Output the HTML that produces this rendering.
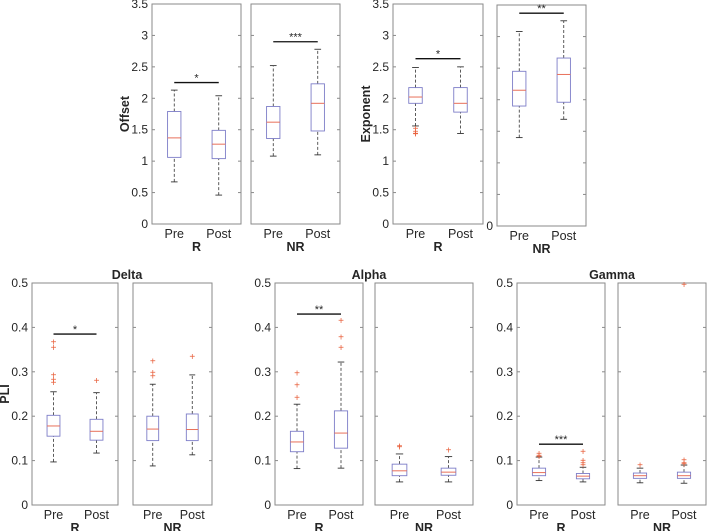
<!DOCTYPE html>
<html><head><meta charset="utf-8"><style>
body{margin:0;background:#fff;}
svg{display:block;font-family:"Liberation Sans",Arial,sans-serif;}
</style></head><body>
<svg id="chart" width="708" height="531" viewBox="0 0 708 531" xmlns="http://www.w3.org/2000/svg"></svg>
<script>
// [whiskerLow, q1, median, q3, whiskerHigh]
const offsetRPre=[0.67,1.06,1.37,1.79,2.13], offsetRPost=[0.46,1.04,1.27,1.49,2.04];
const offsetNRPre=[1.08,1.36,1.62,1.87,2.52], offsetNRPost=[1.10,1.48,1.92,2.23,2.78];
const expRPre=[1.56,1.92,2.02,2.17,2.49], expRPost=[1.44,1.78,1.92,2.17,2.50];
const expNRPre=[1.40,1.90,2.15,2.45,3.08], expNRPost=[1.69,1.96,2.40,2.66,3.25];
const deltaRPre=[0.097,0.155,0.178,0.202,0.255], deltaRPost=[0.117,0.146,0.166,0.193,0.253];
const deltaNRPre=[0.088,0.145,0.171,0.200,0.272], deltaNRPost=[0.113,0.145,0.170,0.205,0.293];
const alphaRPre=[0.082,0.120,0.142,0.166,0.227], alphaRPost=[0.083,0.128,0.162,0.212,0.322];
const alphaNRPre=[0.052,0.066,0.077,0.092,0.115], alphaNRPost=[0.052,0.067,0.074,0.083,0.109];
const gammaRPre=[0.055,0.066,0.073,0.083,0.108], gammaRPost=[0.052,0.059,0.065,0.071,0.085];
const gammaNRPre=[0.050,0.060,0.066,0.072,0.083], gammaNRPost=[0.049,0.060,0.066,0.074,0.090];
// outliers
const expRPreOut=[1.52,1.47,1.44,1.43];
const deltaRPreOut=[0.367,0.355,0.293,0.283,0.276], deltaRPostOut=[0.280];
const deltaNRPreOut=[0.324,0.298,0.290], deltaNRPostOut=[0.335];
const alphaRPreOut=[0.297,0.270,0.242], alphaRPostOut=[0.416,0.378,0.355];
const alphaNRPreOut=[0.133,0.131], alphaNRPostOut=[0.124];
const gammaRPreOut=[0.116,0.112,0.109], gammaRPostOut=[0.121,0.100,0.095,0.090];
const gammaNRPreOut=[0.090], gammaNRPostOut=[0.497,0.101,0.095,0.092];
const categories=["Pre","Post"];
const topTicks=[0,0.5,1,1.5,2,2.5,3,3.5];
const topTickLabels=["0","0.5","1","1.5","2","2.5","3","3.5"];
const botTicks=[0,0.1,0.2,0.3,0.4,0.5];
const botTickLabels=["0","0.1","0.2","0.3","0.4","0.5"];

const NS="http://www.w3.org/2000/svg";
const svg=document.getElementById('chart');
function el(tag,attrs,parent){const e=document.createElementNS(NS,tag);for(const k in attrs)e.setAttribute(k,attrs[k]);(parent||svg).appendChild(e);return e;}
function txt(x,y,s,attrs,parent){const t=el('text',Object.assign({x:x,y:y,fill:'#262626','font-size':12},attrs),parent);t.textContent=s;return t;}

function panel(o){
  const g=el('g',{});
  
  
  const x=v=>o.x0+(v-0.5)/2*(o.x1-o.x0);
  const y=v=>o.yb-(v-o.ymin)/(o.ymax-o.ymin)*(o.yb-o.yt);
  const ax=el('rect',{x:o.x0,y:o.yt,width:o.x1-o.x0,height:o.yb-o.yt,fill:'#fff',stroke:'#8a8a8a','stroke-width':1},g);
  
  
  o.ticks.forEach((t,i)=>{
    const ty=y(t);
    el('line',{x1:o.x0,x2:o.x0+3,y1:ty,y2:ty,stroke:'#8a8a8a'},g);
    el('line',{x1:o.x1,x2:o.x1-3,y1:ty,y2:ty,stroke:'#8a8a8a'},g);
    if(o.labels){
      const l=txt(o.x0-4,ty+4,o.labels[i],{'text-anchor':'end','font-size':12},g);
      
      
    }
  });
  if(o.zeroLabel){const l=txt(o.x0-4,o.yb+4,'0',{'text-anchor':'end','font-size':12},g);
    }
  o.boxes.forEach((b,i)=>{
    const cx=x(i+1), hw=(x(1.15)-x(1));
    const bg=el('g',{},g);
    
    
    el('line',{x1:cx,x2:cx,y1:y(b[0]),y2:y(b[1]),stroke:'#333','stroke-dasharray':'3,2','stroke-width':0.8},bg);
    el('line',{x1:cx,x2:cx,y1:y(b[3]),y2:y(b[4]),stroke:'#333','stroke-dasharray':'3,2','stroke-width':0.8},bg);
    el('line',{x1:cx-hw/2,x2:cx+hw/2,y1:y(b[0]),y2:y(b[0]),stroke:'#333','stroke-width':0.9},bg);
    el('line',{x1:cx-hw/2,x2:cx+hw/2,y1:y(b[4]),y2:y(b[4]),stroke:'#333','stroke-width':0.9},bg);
    el('rect',{x:cx-hw,y:y(b[3]),width:2*hw,height:y(b[1])-y(b[3]),fill:'none',stroke:'#7d7dc8','stroke-width':0.9},bg);
    el('line',{x1:cx-hw,x2:cx+hw,y1:y(b[2]),y2:y(b[2]),stroke:'#e8705a','stroke-width':1},bg);
    (o.outs[i]||[]).forEach(v=>{
      const p=el('text',{x:cx,y:y(v)+3.5,'text-anchor':'middle','font-size':10,fill:'#e8603c'},bg);
      p.textContent='+';
      
      
    });
    const tl=txt(cx,o.yb+14,categories[i],{'text-anchor':'middle','font-size':12.5},g);
    
    
  });
  const gl=txt((o.x0+o.x1)/2,o.yb+27,o.group,{'text-anchor':'middle','font-size':12.5,'font-weight':'bold'},g);
  
  
  if(o.sig){
    const sy=y(o.sig[0]);
    const sl=el('line',{x1:x(1),x2:x(2),y1:sy,y2:sy,stroke:'#111','stroke-width':1.3},g);
    
    
    const st=txt((x(1)+x(2))/2,sy-1,o.sig[1],{'text-anchor':'middle','font-size':11},g);
    
    
  }
}
const T={ymin:0,ymax:3.5,yt:4,yb:224,ticks:topTicks};
panel(Object.assign({},T,{name:'offset-r-panel',x0:152,x1:241,labels:topTickLabels,group:'R',boxes:[offsetRPre,offsetRPost],outs:[[],[]],sig:[2.25,'*']}));
panel(Object.assign({},T,{name:'offset-nr-panel',x0:251,x1:340,group:'NR',boxes:[offsetNRPre,offsetNRPost],outs:[[],[]],sig:[2.9,'***']}));
panel(Object.assign({},T,{name:'exponent-r-panel',x0:393,x1:483,labels:topTickLabels,group:'R',boxes:[expRPre,expRPost],outs:[expRPreOut,[]],sig:[2.63,'*']}));
panel(Object.assign({},T,{name:'exponent-nr-panel',x0:497,x1:586,yt:5,yb:226,zeroLabel:true,group:'NR',boxes:[expNRPre,expNRPost],outs:[[],[]],sig:[3.37,'**']}));
const B={ymin:0,ymax:0.5,yt:283,yb:505,ticks:botTicks};
panel(Object.assign({},B,{name:'delta-r-panel',x0:32,x1:118,labels:botTickLabels,group:'R',boxes:[deltaRPre,deltaRPost],outs:[deltaRPreOut,deltaRPostOut],sig:[0.385,'*']}));
panel(Object.assign({},B,{name:'delta-nr-panel',x0:133,x1:212,group:'NR',boxes:[deltaNRPre,deltaNRPost],outs:[deltaNRPreOut,deltaNRPostOut]}));
panel(Object.assign({},B,{name:'alpha-r-panel',x0:275,x1:363,labels:botTickLabels,group:'R',boxes:[alphaRPre,alphaRPost],outs:[alphaRPreOut,alphaRPostOut],sig:[0.43,'**']}));
panel(Object.assign({},B,{name:'alpha-nr-panel',x0:375,x1:473,group:'NR',boxes:[alphaNRPre,alphaNRPost],outs:[alphaNRPreOut,alphaNRPostOut]}));
panel(Object.assign({},B,{name:'gamma-r-panel',x0:517,x1:605,labels:botTickLabels,group:'R',boxes:[gammaRPre,gammaRPost],outs:[gammaRPreOut,gammaRPostOut],sig:[0.137,'***']}));
panel(Object.assign({},B,{name:'gamma-nr-panel',x0:618,x1:706,group:'NR',boxes:[gammaNRPre,gammaNRPost],outs:[gammaNRPreOut,gammaNRPostOut]}));

function title(x,y,s,name){const t=txt(x,y,s,{'text-anchor':'middle','font-size':12.5,'font-weight':'bold'});
  }
title(127,279,'Delta','delta-title');
title(369,279,'Alpha','alpha-title');
title(612,279,'Gamma','gamma-title');
function ylab(x,y,s,name){const t=txt(0,0,s,{'text-anchor':'middle','font-size':12.5,'font-weight':'bold',transform:'translate('+x+','+y+') rotate(-90)'});
  }
ylab(129,114,'Offset','offset-y-axis-title');
ylab(370,114,'Exponent','exponent-y-axis-title');
ylab(9,394,'PLI','pli-y-axis-title');
</script>
</body></html>
